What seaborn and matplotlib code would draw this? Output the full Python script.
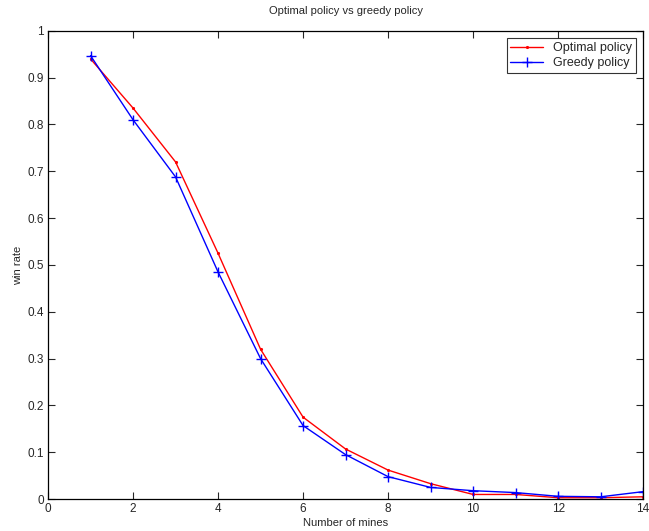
import seaborn as sns
import pandas as pd
import matplotlib.pyplot as plt

sns.set_style("white")
plt.rcParams['font.family'] = ['Liberation Sans', 'DejaVu Sans']

mines = [1, 2, 3, 4, 5, 6, 7, 8, 9, 10, 11, 12, 13, 14]
optimal = [0.94, 0.835, 0.72, 0.525, 0.32, 0.175, 0.107, 0.062, 0.033, 0.010, 0.010, 0.003, 0.003, 0.005]
greedy = [0.947, 0.81, 0.688, 0.485, 0.30, 0.157, 0.095, 0.048, 0.025, 0.018, 0.014, 0.006, 0.005, 0.016]

df = pd.DataFrame({'mines': mines, 'Optimal policy': optimal, 'Greedy policy': greedy})

fig = plt.figure(figsize=(6.49, 5.31), dpi=100)
ax = fig.add_axes([0.0740, 0.060, 0.9170, 0.882])
sns.lineplot(data=df, x='mines', y='Optimal policy', color='red', marker='.', markersize=3,
             markeredgecolor='red', linewidth=1, label='Optimal policy', ax=ax)
sns.lineplot(data=df, x='mines', y='Greedy policy', color='blue', marker='+', markersize=7,
             markeredgecolor='blue', markeredgewidth=1, linewidth=1, label='Greedy policy', ax=ax)

ax.set_xlim(0, 14)
ax.set_ylim(0, 1)
ax.set_xticks(range(0, 15, 2))
ax.set_yticks([i / 10 for i in range(11)])
ax.set_yticklabels(['0', '0.1', '0.2', '0.3', '0.4', '0.5', '0.6', '0.7', '0.8', '0.9', '1'])
ax.tick_params(direction='in', length=5, width=0.8, labelsize=8.5, top=True, right=True,
               bottom=True, left=True, pad=3)
for s in ax.spines.values():
    s.set_color('black')
    s.set_linewidth(0.9)
ax.set_title('Optimal policy vs greedy policy', fontsize=8, pad=12)
ax.set_xlabel('Number of mines', fontsize=8, labelpad=2)
ax.set_ylabel('win rate', fontsize=8, labelpad=3)
leg = ax.legend(loc='upper right', fontsize=9, frameon=True, fancybox=False,
                edgecolor='black', borderpad=0.3, handlelength=2.6, borderaxespad=0.6,
                labelspacing=0.25)
leg.get_frame().set_linewidth(0.8)

fig.savefig('out.png', dpi=100)
